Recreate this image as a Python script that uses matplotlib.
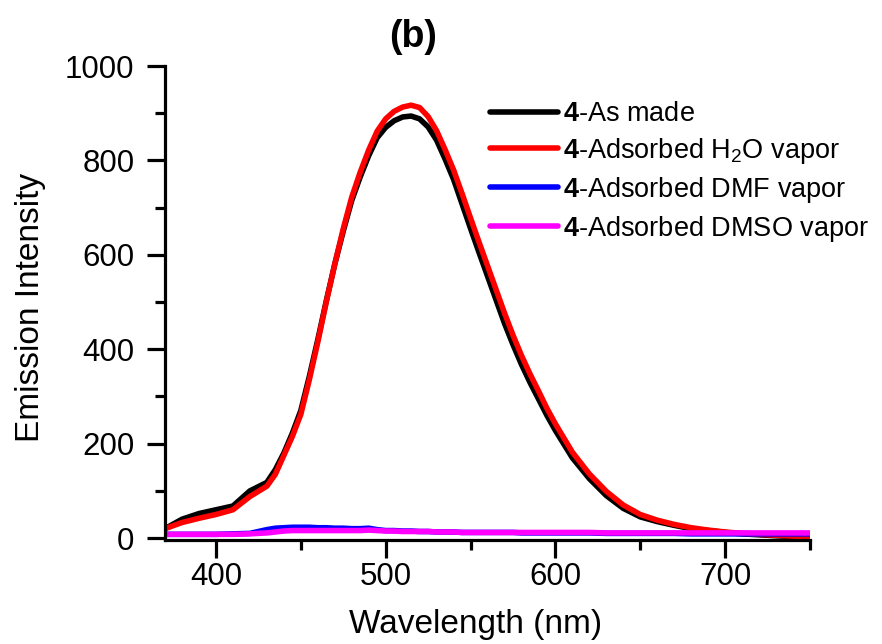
import numpy as np
import matplotlib
matplotlib.use('Agg')
import matplotlib.pyplot as plt
from matplotlib.ticker import MultipleLocator

plt.rcParams['font.family'] = ['Liberation Sans', 'DejaVu Sans']
plt.rcParams['mathtext.fontset'] = 'custom'
plt.rcParams['mathtext.rm'] = 'Liberation Sans'
plt.rcParams['mathtext.bf'] = 'Liberation Sans:bold'

# emission spectra (nm vs. intensity)
wl = [370, 380, 390, 400, 410, 420,
      430, 435, 440, 445, 450, 455, 460, 465, 470, 475, 480, 485, 490, 495,
      500, 505, 510, 515, 520, 525, 530, 535, 540, 545, 550, 555, 560, 565,
      570, 575, 580, 585, 590, 595, 600,
      610, 620, 630, 640, 650, 660, 670, 680, 690, 700, 710, 720, 730, 740, 750]

as_made = [20, 40, 52, 60, 68, 100,
           118, 145, 180, 222, 270, 342, 420, 502, 580, 650, 715, 765, 810, 848,
           870, 884, 892, 894, 888, 871, 843, 803, 760, 708, 656, 605, 555, 505,
           455, 410, 368, 330, 295, 260, 228,
           170, 126, 90, 63, 45, 35, 27, 20, 16, 12, 9, 7, 5, 3, 2]

h2o = [20, 33, 42, 50, 60, 88,
       110, 135, 175, 215, 262, 335, 415, 500, 580, 655, 722, 775, 822, 862,
       888, 904, 913, 917, 912, 893, 863, 823, 780, 730, 678, 627, 577, 527,
       477, 430, 387, 348, 312, 275, 242,
       182, 136, 99, 70, 50, 38, 29, 22, 17, 13, 10, 8, 6, 4, 2]

dmf = [8, 8, 8, 8, 9, 10,
       18, 21, 22, 23, 23, 23, 22, 22, 21, 21, 20, 20, 21, 18,
       16, 16, 15, 15, 14, 14, 13, 13, 13, 12, 12, 12, 12, 12,
       12, 12, 11, 11, 11, 11, 11,
       11, 11, 10, 10, 10, 10, 10, 9, 9, 9, 9, 9, 9, 9, 9]

dmso = [8, 8, 8, 8, 8, 9,
        11, 13, 15, 16, 16, 16, 16, 16, 16, 16, 16, 16, 17, 16,
        15, 15, 14, 14, 14, 14, 13, 13, 13, 12, 12, 12, 12, 12,
        12, 12, 12, 12, 12, 12, 12,
        12, 12, 11, 11, 11, 11, 11, 11, 11, 11, 11, 11, 11, 11, 11]

labels = [r'$\mathbf{4}$-As made',
          r'$\mathbf{4}$-Adsorbed H$_2$O vapor',
          r'$\mathbf{4}$-Adsorbed DMF vapor',
          r'$\mathbf{4}$-Adsorbed DMSO vapor']
colors = ['black', 'red', 'blue', 'magenta']

fig = plt.figure(figsize=(8.82, 6.44), dpi=100)
ax = fig.add_axes([165/882, 1-540/644, 645/882, 474/644])

for y, c, lab in zip([as_made, h2o, dmf, dmso], colors, labels):
    ax.plot(wl, y, color=c, lw=4, label=lab, solid_capstyle='round',
            solid_joinstyle='round')

ax.set_xlim(370, 750)
ax.set_ylim(-4, 1000)
ax.xaxis.set_major_locator(MultipleLocator(100))
ax.xaxis.set_minor_locator(MultipleLocator(50))
ax.yaxis.set_major_locator(MultipleLocator(200))
ax.yaxis.set_minor_locator(MultipleLocator(100))

for s in ['top', 'right']:
    ax.spines[s].set_visible(False)
for s in ['left', 'bottom']:
    ax.spines[s].set_linewidth(2.3)

ax.tick_params(which='major', direction='out', length=13, width=2.3,
               labelsize=22.5)
ax.tick_params(which='minor', direction='out', length=7, width=2.3)
ax.tick_params(axis='x', which='major', pad=3)
ax.tick_params(axis='y', which='major', pad=9)

ax.set_xlabel('Wavelength (nm)', fontsize=24)
ax.set_ylabel('Emission Intensity', fontsize=24)
ax.xaxis.set_label_coords((476-165)/645, -0.145)
ax.yaxis.set_label_coords(-0.185, 0.49)

fig.text(413/882, 1-37/644, '(b)', fontsize=27, fontweight='bold',
         ha='center', va='center')

ax.legend(loc='upper left', bbox_to_anchor=(490/882, 1-101/644),
          bbox_transform=fig.transFigure, frameon=False, fontsize=19.5,
          handlelength=2.5, handletextpad=0.2, labelspacing=0.33,
          borderpad=0, borderaxespad=0)

fig.savefig('out.png', dpi=100)
